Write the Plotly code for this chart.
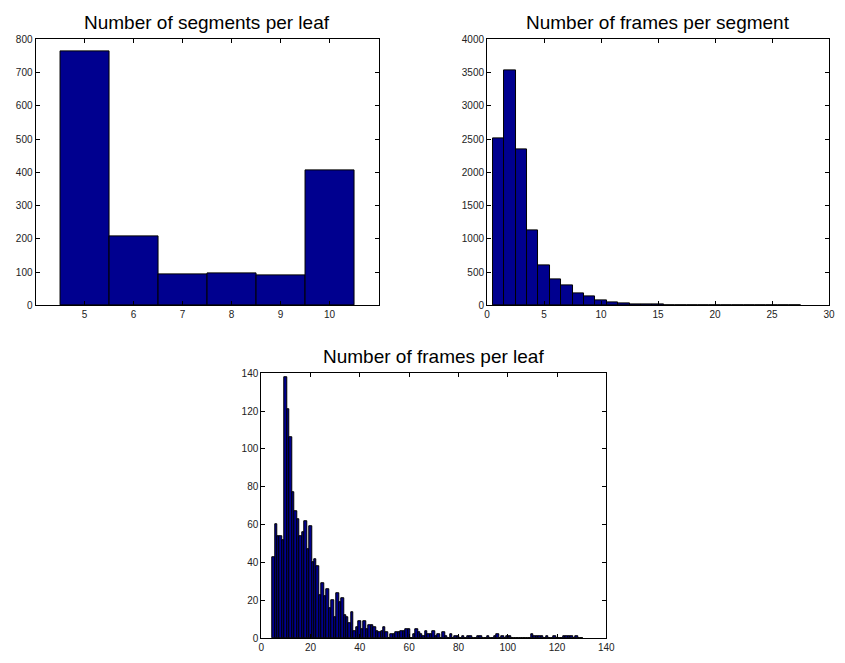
import plotly.graph_objects as go

# --- Data ---
seg_bins = [5, 6, 7, 8, 9, 10]
seg_counts = [763, 209, 93, 96, 91, 406]

fps_bins = list(range(1, 28))
fps_counts = [2513, 3532, 2346, 1131, 605, 393, 300, 182, 133, 79, 49, 30, 20, 20, 10,
              4, 4, 8, 5, 2, 2, 1, 2, 1, 1, 2, 1]

fpl_bins = list(range(5, 131))
fpl_counts = [43, 60, 54, 54, 52, 138, 121, 106, 77, 67, 63, 54, 56, 62, 47, 59,
              40, 42, 38, 23, 29, 22, 26, 16, 20, 11, 24, 19, 21, 12, 11, 8, 14,
              4, 6, 9, 5, 9, 5, 7, 7, 6, 4, 3, 4, 6, 3, 0, 2, 2, 3, 3, 4, 4, 5, 5,
              0, 2, 5, 3, 2, 1, 4, 2, 2, 4, 1, 2, 0, 3, 1, 0, 2, 0, 1, 1, 0, 1, 0,
              1, 1, 0, 0, 1, 1, 0, 0, 1, 0, 0, 1, 2, 0, 1, 0, 1, 1, 0, 0, 0, 0, 0,
              0, 0, 0, 2, 1, 1, 1, 1, 0, 1, 0, 0, 1, 0, 0, 0, 1, 1, 1, 1, 0, 1, 0, 0]

titles = ["Number of segments per leaf", "Number of frames per segment", "Number of frames per leaf"]

BAR = "#00008F"
W, H = 845, 663

fig = go.Figure()
bar_style = dict(marker=dict(color=BAR, line=dict(color="black", width=1)), width=1, showlegend=False)
fig.add_trace(go.Bar(x=seg_bins, y=seg_counts, xaxis="x", yaxis="y", **bar_style))
fig.add_trace(go.Bar(x=fps_bins, y=fps_counts, xaxis="x2", yaxis="y2", **bar_style))
fig.add_trace(go.Bar(x=fpl_bins, y=fpl_counts, xaxis="x3", yaxis="y3", **bar_style))

def px_x(a, b):
    return [a / W, b / W]

def px_y(top, bottom):
    return [1 - bottom / H, 1 - top / H]

axfont = dict(family="Liberation Sans, Arial, sans-serif", size=10, color="#222")
common = dict(showline=True, linecolor="black", linewidth=1, mirror="ticks", ticks="inside",
              ticklen=4, tickcolor="black", showgrid=False, zeroline=False, tickfont=axfont)

fig.update_layout(
    width=W, height=H, margin=dict(l=0, r=0, t=0, b=0),
    plot_bgcolor="white", paper_bgcolor="white", bargap=0,
    xaxis=dict(domain=px_x(33, 381), range=[4, 11], tickvals=seg_bins, anchor="y", **common),
    yaxis=dict(domain=px_y(34, 305), range=[0, 800], dtick=100, anchor="x", **common),
    xaxis2=dict(domain=px_x(491, 838), range=[0, 30], dtick=5, anchor="y2", **common),
    yaxis2=dict(domain=px_y(34, 305), range=[0, 4000], dtick=500, anchor="x2", **common),
    xaxis3=dict(domain=px_x(262, 612), range=[0, 140], dtick=20, anchor="y3", **common),
    yaxis3=dict(domain=px_y(374, 644), range=[0, 140], dtick=20, anchor="x3", **common),
)

tfont = dict(family="Liberation Sans, Arial, sans-serif", size=19, color="black")
for text, cx, cy in [(titles[0], 207, 17), (titles[1], 664, 17), (titles[2], 437, 357)]:
    fig.add_annotation(text=text, x=cx / W, y=1 - cy / H, xref="paper", yref="paper",
                       showarrow=False, font=tfont, xanchor="center", yanchor="middle")

fig.write_html("out.html")
